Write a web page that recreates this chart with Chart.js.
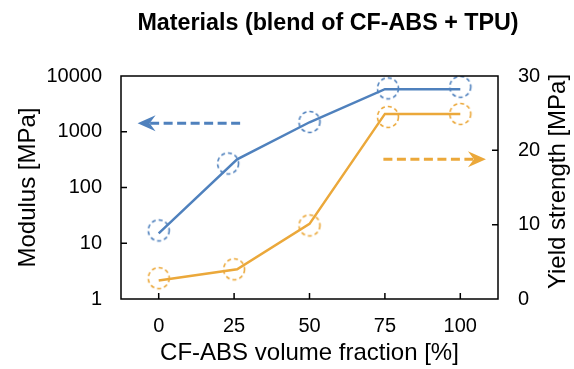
<!DOCTYPE html>
<html>
<head>
<meta charset="utf-8">
<script src="https://cdn.jsdelivr.net/npm/chart.js@4"></script>
<style>
  html, body { margin: 0; padding: 0; background: #fff; }
  #wrap { width: 574px; height: 369px; }
</style>
</head>
<body>
<div id="wrap"><canvas id="chart"></canvas></div>
<script>
// CF-ABS volume fraction [%]
const xTicks = [0, 25, 50, 75, 100];

// modulus [MPa]: model line and measured samples
const modulusLineX = [0, 26, 50, 75, 100];
const modulusLine = [15, 320, 1480, 5800, 5800];
const modulusPointX = [0, 23, 50, 76, 100];
const modulusPoints = [17, 270, 1500, 6000, 6400];

// yield strength [MPa]: model line and measured samples
const strengthLineX = [0, 26, 50, 75, 100];
const strengthLine = [2.5, 4.0, 10.1, 24.9, 24.9];
const strengthPointX = [0, 25, 50, 76, 100];
const strengthPoints = [2.8, 4.0, 9.9, 24.5, 24.9];

const modulusTicks = [1, 10, 100, 1000, 10000];
const strengthTicks = [0, 10, 20, 30];

const chartTitle = 'Materials (blend of CF-ABS + TPU)';
const rightTitle = 'Yield strength [MPa]';

const BLUE = '#4F81BD';
const ORANGE = '#EBA83A';
const FONT = 'Arial, "Liberation Sans", sans-serif';

// arrows telling which axis each curve belongs to (data units)
const arrows = [
  { from: [27, 1420], to: [-7, 1420], axis: 'y', color: BLUE },
  { from: [74.5, 18.8], to: [108.5, 18.8], axis: 'y2', color: ORANGE }
];

function xy(xs, ys) {
  return xs.map((x, i) => ({ x: x, y: ys[i] }));
}

// hollow dashed circle used as marker
function dashedCircle(color) {
  const c = document.createElement('canvas');
  c.width = 26; c.height = 26;
  const g = c.getContext('2d');
  g.strokeStyle = color;
  g.lineWidth = 1.6;
  g.setLineDash([4, 3]);
  g.beginPath();
  g.arc(13, 13, 10.5, 0, Math.PI * 2);
  g.stroke();
  return c;
}

// frame with inward ticks, arrows, chart title and right axis title
const framePlugin = {
  id: 'frame',
  afterDraw(chart) {
    const { ctx, chartArea: a, scales } = chart;
    ctx.save();
    ctx.strokeStyle = '#000';
    ctx.lineWidth = 1.5;
    ctx.strokeRect(a.left, a.top, a.right - a.left, a.bottom - a.top);
    ctx.beginPath();
    xTicks.forEach(v => {
      const px = scales.x.getPixelForValue(v);
      ctx.moveTo(px, a.bottom); ctx.lineTo(px, a.bottom - 6);
    });
    modulusTicks.slice(1, -1).forEach(v => {
      const py = scales.y.getPixelForValue(v);
      ctx.moveTo(a.left, py); ctx.lineTo(a.left + 6, py);
    });
    strengthTicks.slice(1, -1).forEach(v => {
      const py = scales.y2.getPixelForValue(v);
      ctx.moveTo(a.right, py); ctx.lineTo(a.right - 6, py);
    });
    ctx.stroke();

    arrows.forEach(ar => {
      const ys = scales[ar.axis];
      const x0 = scales.x.getPixelForValue(ar.from[0]);
      const x1 = scales.x.getPixelForValue(ar.to[0]);
      const y = ys.getPixelForValue(ar.from[1]);
      const dir = Math.sign(x1 - x0);
      ctx.strokeStyle = ar.color;
      ctx.fillStyle = ar.color;
      ctx.lineWidth = 3;
      ctx.setLineDash([9, 4.5]);
      ctx.beginPath();
      ctx.moveTo(x0, y);
      ctx.lineTo(x1 - dir * 12, y);
      ctx.stroke();
      ctx.setLineDash([]);
      ctx.beginPath();
      ctx.moveTo(x1, y);
      ctx.lineTo(x1 - dir * 18, y - 8);
      ctx.lineTo(x1 - dir * 12, y);
      ctx.lineTo(x1 - dir * 18, y + 8);
      ctx.closePath();
      ctx.fill();
    });

    ctx.fillStyle = '#000';
    ctx.textAlign = 'center';
    ctx.textBaseline = 'middle';
    ctx.font = 'bold 23.3px ' + FONT;
    ctx.fillText(chartTitle, 328, 24);

    // right axis title reads bottom to top, like the left one
    ctx.font = '24px ' + FONT;
    ctx.translate(a.right + 60, (a.top + a.bottom) / 2 - 6);
    ctx.rotate(-Math.PI / 2);
    ctx.fillText(rightTitle, 0, 0);
    ctx.restore();
  }
};

new Chart(document.getElementById('chart'), {
  type: 'scatter',
  data: {
    datasets: [
      {
        label: 'Modulus',
        data: xy(modulusLineX, modulusLine),
        yAxisID: 'y',
        showLine: true,
        borderColor: BLUE,
        borderWidth: 2.5,
        pointRadius: 0
      },
      {
        label: 'Modulus (measured)',
        data: xy(modulusPointX, modulusPoints),
        yAxisID: 'y',
        pointStyle: dashedCircle(BLUE)
      },
      {
        label: 'Yield strength',
        data: xy(strengthLineX, strengthLine),
        yAxisID: 'y2',
        showLine: true,
        borderColor: ORANGE,
        borderWidth: 2.5,
        pointRadius: 0
      },
      {
        label: 'Yield strength (measured)',
        data: xy(strengthPointX, strengthPoints),
        yAxisID: 'y2',
        pointStyle: dashedCircle(ORANGE)
      }
    ]
  },
  options: {
    responsive: true,
    maintainAspectRatio: false,
    animation: false,
    layout: { padding: { top: 76 } },
    plugins: {
      legend: { display: false },
      tooltip: { enabled: false },
      title: { display: false }
    },
    scales: {
      x: {
        type: 'linear',
        min: -12.5,
        max: 112.5,
        afterBuildTicks: s => { s.ticks = xTicks.map(v => ({ value: v })); },
        afterFit: s => { s.height = 70; },
        grid: { display: false, drawTicks: false },
        border: { display: false },
        ticks: { color: '#000', padding: 15, font: { family: FONT, size: 20 } },
        title: {
          display: true,
          text: 'CF-ABS volume fraction [%]',
          color: '#000',
          font: { family: FONT, size: 24 },
          padding: { top: 0, bottom: 1 }
        }
      },
      y: {
        type: 'logarithmic',
        position: 'left',
        min: 1,
        max: 10000,
        afterBuildTicks: s => { s.ticks = modulusTicks.map(v => ({ value: v })); },
        afterFit: s => { s.width = 121; },
        grid: { display: false, drawTicks: false },
        border: { display: false },
        ticks: {
          color: '#000',
          padding: 19,
          font: { family: FONT, size: 20 },
          callback: v => String(v)
        },
        title: {
          display: true,
          text: 'Modulus [MPa]',
          color: '#000',
          font: { family: FONT, size: 24 },
          padding: { top: 14, bottom: 0 }
        }
      },
      y2: {
        type: 'linear',
        position: 'right',
        min: 0,
        max: 30,
        afterBuildTicks: s => { s.ticks = strengthTicks.map(v => ({ value: v })); },
        afterFit: s => { s.width = 76; },
        grid: { display: false, drawTicks: false },
        border: { display: false },
        ticks: { color: '#000', padding: 20, font: { family: FONT, size: 20 } },
        title: { display: false }
      }
    }
  },
  plugins: [framePlugin]
});
</script>
</body>
</html>
